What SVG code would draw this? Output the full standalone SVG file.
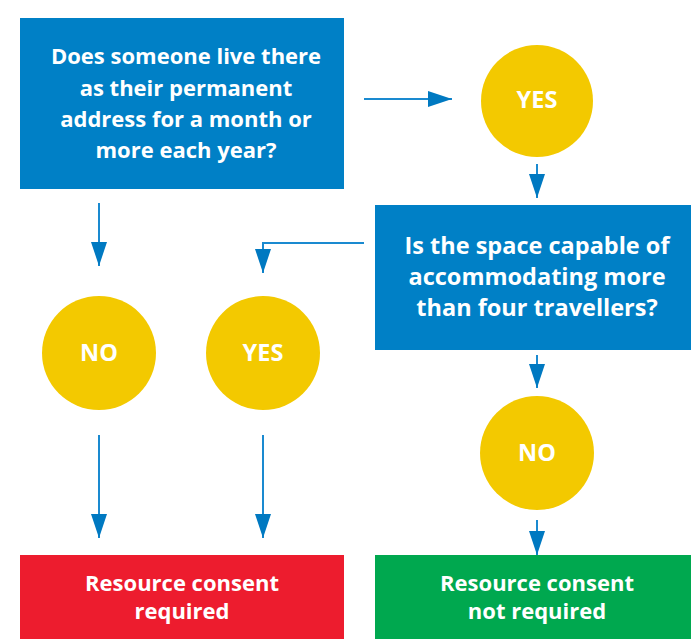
<svg xmlns="http://www.w3.org/2000/svg" width="691" height="639" viewBox="0 0 691 639">
<style>
.q{fill:#0080C6}
.c{fill:#F3C900}
.t{font-family:"Open Sans",Lato,"Liberation Sans",sans-serif;font-weight:700;fill:#fff;text-anchor:middle;font-size:22px}
.b2{font-size:23.5px}
.cl{font-size:23.5px}
.ln{stroke:#1A8AD0;stroke-width:2;fill:none}
</style>
<defs>
<marker id="ah" viewBox="0 0 24 16" refX="24" refY="8" markerWidth="24" markerHeight="16" markerUnits="userSpaceOnUse" orient="auto">
<path d="M0,0 L24,8 L0,16 Z" fill="#0079C1"/>
</marker>
</defs>
<g id="connectors">
<path class="ln" d="M364,99 H452" marker-end="url(#ah)"/>
<path class="ln" d="M537,164 V198" marker-end="url(#ah)"/>
<path class="ln" d="M364,243 H263 V273" marker-end="url(#ah)"/>
<path class="ln" d="M99,203 V266" marker-end="url(#ah)"/>
<path class="ln" d="M99,435 V538" marker-end="url(#ah)"/>
<path class="ln" d="M263,435 V538" marker-end="url(#ah)"/>
<path class="ln" d="M537,355 V388" marker-end="url(#ah)"/>
<path class="ln" d="M537,520 V555" marker-end="url(#ah)"/>
</g>
<g id="q1">
<rect class="q" x="20" y="18" width="324" height="171"/>
<text class="t" x="186" y="64">Does someone live there</text>
<text class="t" x="186" y="96">as their permanent</text>
<text class="t" x="186" y="127">address for a month or</text>
<text class="t" x="186" y="158">more each year?</text>
</g>
<g id="yes1">
<circle class="c" cx="537" cy="101" r="56"/>
<text class="t cl" x="537" y="108">YES</text>
</g>
<g id="q2">
<rect class="q" x="375" y="205" width="316" height="145"/>
<text class="t b2" x="537" y="254">Is the space capable of</text>
<text class="t b2" x="537" y="285">accommodating more</text>
<text class="t b2" x="537" y="316">than four travellers?</text>
</g>
<g id="no1">
<circle class="c" cx="99" cy="353" r="57"/>
<text class="t cl" x="99" y="361">NO</text>
</g>
<g id="yes2">
<circle class="c" cx="263" cy="353" r="57"/>
<text class="t cl" x="263" y="361">YES</text>
</g>
<g id="no2">
<circle class="c" cx="537" cy="453" r="57"/>
<text class="t cl" x="537" y="461">NO</text>
</g>
<g id="required">
<rect x="20" y="555" width="324" height="84" fill="#ED1C2E"/>
<text class="t" x="182" y="591">Resource consent</text>
<text class="t" x="182" y="619">required</text>
</g>
<g id="notrequired">
<rect x="375" y="555" width="316" height="84" fill="#00A84F"/>
<text class="t" x="537" y="591">Resource consent</text>
<text class="t" x="537" y="619">not required</text>
</g>
</svg>
